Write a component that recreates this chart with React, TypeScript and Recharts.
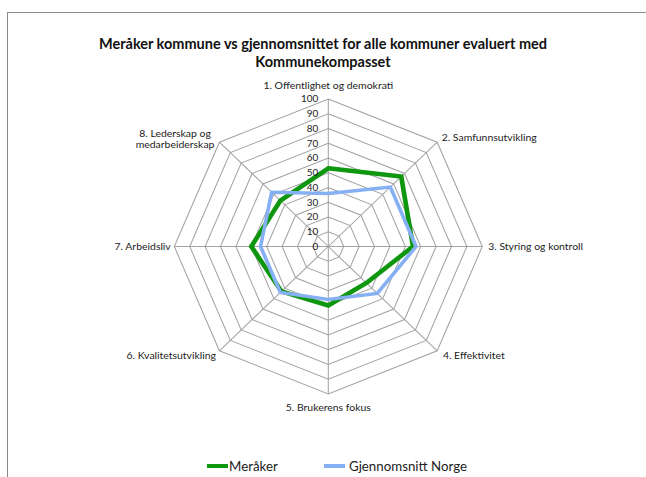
import React from "react";
import { RadarChart, Radar, PolarGrid, PolarAngleAxis, PolarRadiusAxis, Legend } from "recharts";

const categories = [
  "1. Offentlighet og demokrati",
  "2. Samfunnsutvikling",
  "3. Styring og kontroll",
  "4. Effektivitet",
  "5. Brukerens fokus",
  "6. Kvalitetsutvikling",
  "7. Arbeidsliv",
  "8. Lederskap og medarbeiderskap",
];
const meraker = [53, 67, 55, 35, 40, 43, 50, 44];
const norge = [36, 57, 57, 45, 36, 44, 44, 52];
const radiusTicks = [0, 10, 20, 30, 40, 50, 60, 70, 80, 90, 100];

const data = categories.map((c, i) => ({ name: c, m: meraker[i], n: norge[i] }));

const FONT = "Lato, 'Open Sans', sans-serif";
const CX = 328.3;
const CY = 246.5;
const R = 147.5;
const STRETCH = 1.044;

// label placement relative to each outer vertex: [anchor, dx, dy]
const labelOffsets: Array<["start" | "middle" | "end", number, number]> = [
  ["middle", 0, -9.5],
  ["start", 4.3, -0.7],
  ["start", 5.7, 3.5],
  ["start", 5.5, 8.7],
  ["middle", 0, 17],
  ["end", -3.3, 8.7],
  ["end", -3.4, 3.5],
  ["middle", -42.5, -5.4],
];

const AngleTick = (props: any) => {
  const { x, y, payload, index } = props;
  const a = ((payload.coordinate ?? 90 - index * 45) * Math.PI) / 180;
  const vx = x - 8 * Math.cos(a);
  const vy = y + 8 * Math.sin(a);
  const [anchor, dx, dy] = labelOffsets[index] || ["middle", 0, 0];
  const common = { fontFamily: FONT, fontSize: 10, fill: "#222" };
  const label: string = payload.value;
  if (index === 7) {
    const parts = ["8. Lederskap og", "medarbeiderskap"];
    return (
      <text x={vx + dx} y={vy + dy} textAnchor={anchor} {...common}>
        <tspan x={vx + dx} dy={0}>{parts[0]}</tspan>
        <tspan x={vx + dx} dy={11.7}>{parts[1]}</tspan>
      </text>
    );
  }
  return (
    <text x={vx + dx} y={vy + dy} textAnchor={anchor} {...common}>
      {label}
    </text>
  );
};

const RadiusTick = (props: any) => {
  const { x, y, payload } = props;
  return (
    <text x={x - 9.6} y={y + 3.5} textAnchor="end" fontFamily={FONT} fontSize={9.5} fill="#222">
      {payload.value}
    </text>
  );
};

const legendSlots = [
  { left: 207, line: 21, h: 4, gap: 1 },
  { left: 324, line: 21, h: 3.5, gap: 4 },
];

const LegendContent = (props: any) => {
  const payload = [...(props.payload || [])].sort((p: any, q: any) =>
    p.dataKey === "m" ? -1 : q.dataKey === "m" ? 1 : 0
  );
  return (
    <div style={{ position: "relative", height: 20, fontFamily: FONT, fontSize: 13.3, color: "#222" }}>
      {payload.map((p: any, i: number) => {
        const s = legendSlots[i] || legendSlots[0];
        return (
          <div
            key={i}
            style={{
              position: "absolute",
              left: s.left,
              top: 0,
              height: 20,
              display: "flex",
              alignItems: "center",
              whiteSpace: "nowrap",
            }}
          >
            <span
              style={{
                display: "inline-block",
                width: s.line,
                height: s.h,
                background: p.color,
                marginRight: s.gap,
              }}
            />
            <span>{p.value}</span>
          </div>
        );
      })}
    </div>
  );
};

export default function App() {
  return (
    <div style={{ position: "absolute", left: 0, top: 0, width: 646, height: 477, background: "#fff", overflow: "hidden" }}>
      <style>{`.radar-wrap .recharts-surface { transform: scaleX(${STRETCH}); transform-origin: ${CX}px 0px; }`}</style>
      <div
        style={{
          position: "absolute",
          left: 7,
          top: 12,
          width: 700,
          height: 500,
          borderLeft: "1px solid #8a8a8a",
          borderTop: "1px solid #8a8a8a",
        }}
      />
      <div
        style={{
          position: "absolute",
          left: 0,
          top: 35,
          width: 646,
          textAlign: "center",
          fontFamily: FONT,
          fontWeight: 700,
          fontSize: 14.5,
          lineHeight: "18px",
          color: "#111",
        }}
      >
        Meråker kommune vs gjennomsnittet for alle kommuner evaluert med
        <br />
        Kommunekompasset
      </div>
      <div className="radar-wrap" style={{ position: "absolute", left: 0, top: 0 }}>
        <RadarChart
          width={646}
          height={477}
          data={data}
          cx={CX}
          cy={CY}
          outerRadius={R}
          startAngle={90}
          endAngle={-270}
          margin={{ top: 0, right: 0, bottom: 0, left: 0 }}
        >
          <PolarGrid gridType="polygon" stroke="#a3a3a3" strokeWidth={1} polarRadius={radiusTicks.map((t) => (t / 100) * R)} />
          <PolarAngleAxis dataKey="name" tick={<AngleTick />} tickLine={false} axisLine={false} />
          <PolarRadiusAxis
            angle={90}
            domain={[0, 100]}
            ticks={radiusTicks}
            tickCount={11}
            tick={<RadiusTick />}
            axisLine={false}
            tickLine={false}
          />
          <Radar
            name="Meråker"
            dataKey="m"
            stroke="#0e960e"
            strokeWidth={4.5}
            fill="none"
            fillOpacity={0}
            dot={false}
            isAnimationActive={false}
            legendType="plainline"
          />
          <Radar
            name="Gjennomsnitt Norge"
            dataKey="n"
            stroke="#86b0f4"
            strokeWidth={3.5}
            fill="none"
            fillOpacity={0}
            dot={false}
            isAnimationActive={false}
            legendType="plainline"
          />
          <Legend
            content={<LegendContent />}
            wrapperStyle={{ position: "absolute", left: 0, top: 456, width: 646 }}
          />
        </RadarChart>
      </div>
    </div>
  );
}
